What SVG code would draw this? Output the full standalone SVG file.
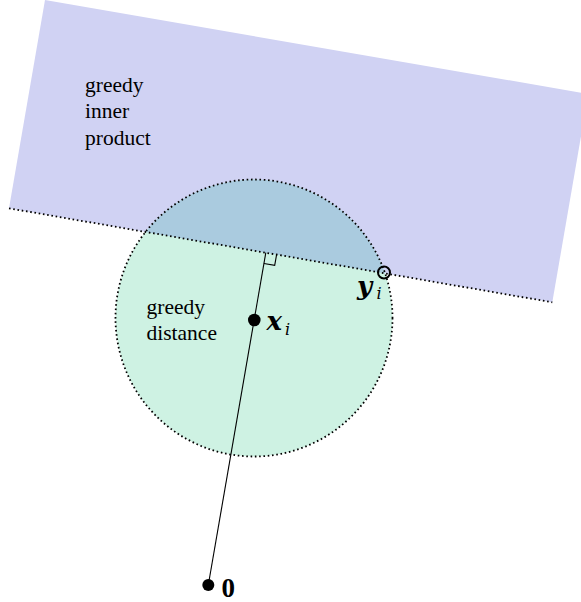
<svg xmlns="http://www.w3.org/2000/svg" width="581" height="602" viewBox="0 0 581 602">
<style>
.lbl{font-family:"Liberation Serif","Times New Roman",serif;font-size:21.5px;fill:#000}
.bm{font-family:"DejaVu Serif",serif;font-weight:bold;font-style:italic;font-size:26px;fill:#000}
.sub{font-family:"DejaVu Serif",serif;font-style:italic;font-size:16px;fill:#000}
.dot{stroke:#000;stroke-width:1.8;stroke-dasharray:1.6 2.7;fill:none}
.solid{stroke:#000;stroke-width:1.1;fill:none}
</style>
<rect width="581" height="602" fill="#fff"/>
<g id="region-inner-product">
<polygon points="45,0 588.3,94 552.3,302.3 9,208.3" fill="#d0d2f3"/>
</g>
<g id="region-distance">
<circle cx="254" cy="318" r="138.5" fill="#cef2e3"/>
<path d="M145.5 231.9 A138.5 138.5 0 0 1 385.1 273.4 Z" fill="#aacbdf"/>
</g>
<g id="connectors">
<circle class="dot" cx="254" cy="318" r="138.5"/>
<line class="dot" x1="9" y1="208.3" x2="552.3" y2="302.3"/>
<line class="solid" x1="208.3" y1="585" x2="265.8" y2="252.7"/>
<path class="solid" d="M276.6 254.6 L274.7 265.4 L263.9 263.5"/>
</g>
<g id="label-inner-product">
<text class="lbl" x="85" y="91.5">greedy</text>
<text class="lbl" x="85" y="118.3">inner</text>
<text class="lbl" x="85" y="145">product</text>
</g>
<g id="label-distance">
<text class="lbl" x="146.5" y="314">greedy</text>
<text class="lbl" x="146.5" y="340">distance</text>
</g>
<g id="node-origin">
<circle cx="208.3" cy="585" r="6" fill="#000"/>
<text x="221.5" y="597" font-family="Liberation Serif, serif" font-size="27" font-weight="bold">0</text>
</g>
<g id="node-xi">
<circle cx="254.3" cy="320" r="6.3" fill="#000"/>
<text class="bm" x="266.5" y="330">x</text>
<text class="sub" x="285" y="335">i</text>
</g>
<g id="node-yi">
<circle cx="384" cy="272.5" r="6" fill="none" stroke="#000" stroke-width="2"/>
<text class="bm" x="357" y="295">y</text>
<text class="sub" x="376.5" y="298.5">i</text>
</g>
</svg>
